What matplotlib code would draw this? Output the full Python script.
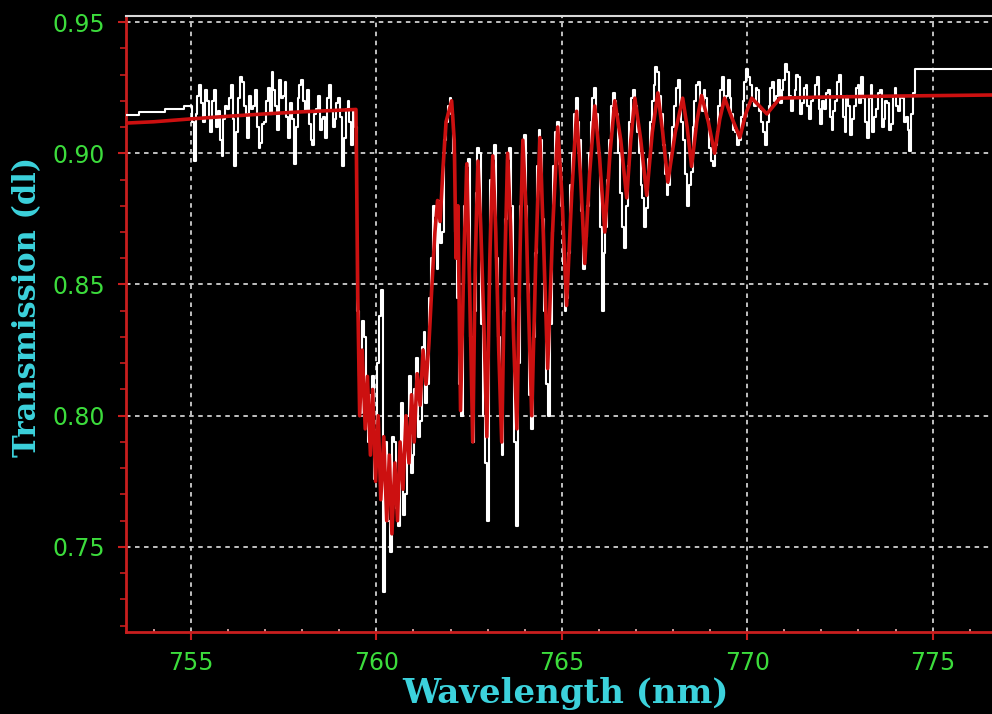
import numpy as np
import matplotlib.pyplot as plt
from matplotlib.ticker import MultipleLocator, FormatStrFormatter

# measured transmission, sparse samples before the band and after it
edge_wl_left = [753.25, 753.95, 754.65]
edge_tr_left = [0.9146, 0.9158, 0.9170]
edge_wl_right = [774.55, 776.6]
edge_tr_right = [0.932, 0.932]

# measured transmission on the 0.05 nm grid, 755.00 - 774.50 nm (one row per half nm)
meas_tr = [
    0.918, 0.912, 0.897, 0.915, 0.922, 0.926, 0.919, 0.912, 0.924, 0.920,
    0.914, 0.908, 0.920, 0.924, 0.910, 0.916, 0.905, 0.899, 0.913, 0.918,
    0.917, 0.921, 0.926, 0.913, 0.895, 0.908, 0.921, 0.929, 0.927, 0.918,
    0.915, 0.906, 0.922, 0.917, 0.918, 0.924, 0.910, 0.902, 0.904, 0.911,
    0.912, 0.920, 0.925, 0.915, 0.931, 0.924, 0.918, 0.909, 0.928, 0.921,
    0.922, 0.927, 0.914, 0.906, 0.919, 0.913, 0.896, 0.910, 0.921, 0.926,
    0.928, 0.920, 0.916, 0.924, 0.911, 0.905, 0.903, 0.915, 0.917, 0.922,
    0.909, 0.913, 0.914, 0.906, 0.921, 0.926, 0.916, 0.910, 0.913, 0.919,
    0.921, 0.914, 0.895, 0.906, 0.917, 0.920, 0.912, 0.903, 0.916, 0.910,
    0.840, 0.815, 0.801, 0.836, 0.830, 0.800, 0.790, 0.808, 0.815, 0.776,
    0.782, 0.820, 0.838, 0.848, 0.733, 0.790, 0.775, 0.760, 0.748, 0.792,
    0.790, 0.765, 0.758, 0.780, 0.805, 0.762, 0.770, 0.800, 0.815, 0.778,
    0.785, 0.810, 0.822, 0.792, 0.798, 0.826, 0.832, 0.805, 0.812, 0.845,
    0.860, 0.880, 0.876, 0.856, 0.882, 0.866, 0.870, 0.905, 0.912, 0.918,
    0.921, 0.915, 0.900, 0.870, 0.845, 0.812, 0.800, 0.850, 0.880, 0.895,
    0.898, 0.830, 0.790, 0.840, 0.885, 0.902, 0.900, 0.835, 0.800, 0.782,
    0.760, 0.850, 0.890, 0.898, 0.903, 0.860, 0.830, 0.800, 0.785, 0.840,
    0.875, 0.898, 0.902, 0.880, 0.845, 0.790, 0.758, 0.820, 0.880, 0.900,
    0.907, 0.880, 0.850, 0.808, 0.795, 0.830, 0.862, 0.895, 0.909, 0.905,
    0.875, 0.840, 0.812, 0.800, 0.835, 0.870, 0.895, 0.908, 0.912, 0.896,
    0.880, 0.858, 0.840, 0.845, 0.862, 0.888, 0.900, 0.915, 0.921, 0.912,
    0.905, 0.878, 0.856, 0.868, 0.880, 0.900, 0.912, 0.921, 0.925, 0.915,
    0.900, 0.872, 0.840, 0.862, 0.872, 0.890, 0.905, 0.918, 0.923, 0.920,
    0.915, 0.900, 0.885, 0.872, 0.864, 0.880, 0.895, 0.912, 0.921, 0.924,
    0.918, 0.908, 0.900, 0.888, 0.883, 0.872, 0.879, 0.898, 0.912, 0.920,
    0.926, 0.933, 0.931, 0.922, 0.915, 0.903, 0.892, 0.884, 0.888, 0.900,
    0.910, 0.918, 0.925, 0.928, 0.918, 0.912, 0.905, 0.892, 0.880, 0.888,
    0.893, 0.910, 0.920, 0.926, 0.927, 0.920, 0.916, 0.924, 0.921, 0.913,
    0.902, 0.897, 0.895, 0.903, 0.908, 0.918, 0.924, 0.929, 0.919, 0.922,
    0.928, 0.921, 0.915, 0.909, 0.908, 0.903, 0.905, 0.914, 0.920, 0.927,
    0.932, 0.929, 0.926, 0.920, 0.918, 0.925, 0.924, 0.916, 0.912, 0.908,
    0.903, 0.912, 0.918, 0.925, 0.927, 0.920, 0.922, 0.928, 0.919, 0.924,
    0.928, 0.934, 0.931, 0.922, 0.916, 0.921, 0.924, 0.930, 0.929, 0.915,
    0.919, 0.925, 0.926, 0.918, 0.913, 0.920, 0.921, 0.926, 0.929, 0.917,
    0.911, 0.920, 0.917, 0.923, 0.924, 0.914, 0.909, 0.916, 0.920, 0.927,
    0.930, 0.922, 0.914, 0.908, 0.922, 0.918, 0.907, 0.913, 0.918, 0.925,
    0.926, 0.919, 0.929, 0.921, 0.912, 0.906, 0.921, 0.926, 0.908, 0.914,
    0.917, 0.923, 0.924, 0.910, 0.913, 0.920, 0.919, 0.909, 0.911, 0.922,
    0.925, 0.918, 0.916, 0.922, 0.921, 0.912, 0.914, 0.909, 0.901, 0.915,
    0.923,
]
meas_wl = np.round(755.0 + 0.05 * np.arange(len(meas_tr)), 2)

# model transmission
model_wl = [
    753.25, 754.00, 755.00, 756.00, 757.00, 758.00, 759.00, 759.45, 759.50, 759.55,
    759.62, 759.70, 759.76, 759.84, 759.90, 759.98, 760.05, 760.12, 760.20, 760.28,
    760.35, 760.42, 760.50, 760.57, 760.64, 760.72, 760.80, 760.88, 760.95, 761.02,
    761.10, 761.18, 761.26, 761.34, 761.42, 761.50, 761.58, 761.65, 761.72, 761.80,
    761.88, 762.03, 762.10, 762.15, 762.20, 762.27, 762.36, 762.44, 762.52, 762.60,
    762.67, 762.74, 762.82, 762.90, 762.98, 763.06, 763.14, 763.22, 763.30, 763.38,
    763.46, 763.54, 763.62, 763.70, 763.79, 763.87, 763.95, 764.03, 764.11, 764.19,
    764.30, 764.41, 764.50, 764.62, 764.75, 764.89, 765.00, 765.13, 765.27, 765.40,
    765.51, 765.62, 765.75, 765.89, 766.02, 766.16, 766.30, 766.43, 766.59, 766.75,
    766.86, 766.97, 767.13, 767.29, 767.44, 767.59, 767.72, 767.86, 768.06, 768.26,
    768.38, 768.50, 768.64, 768.77, 768.95, 769.12, 769.26, 769.39, 769.60, 769.80,
    769.96, 770.12, 770.33, 770.53, 770.88, 772.00, 774.00, 776.60,
]
model_tr = [
    0.9115, 0.9120, 0.9131, 0.9141, 0.9150, 0.9158, 0.9164, 0.9167, 0.845, 0.800,
    0.825, 0.795, 0.815, 0.785, 0.810, 0.775, 0.800, 0.768, 0.792, 0.760,
    0.785, 0.755, 0.782, 0.760, 0.790, 0.772, 0.800, 0.782, 0.808, 0.790,
    0.816, 0.804, 0.825, 0.812, 0.828, 0.850, 0.870, 0.882, 0.874, 0.895,
    0.912, 0.920, 0.905, 0.860, 0.880, 0.802, 0.860, 0.896, 0.845, 0.790,
    0.860, 0.897, 0.870, 0.835, 0.792, 0.860, 0.899, 0.870, 0.825, 0.790,
    0.855, 0.900, 0.872, 0.830, 0.795, 0.860, 0.905, 0.880, 0.838, 0.800,
    0.860, 0.906, 0.870, 0.818, 0.870, 0.910, 0.885, 0.842, 0.885, 0.916,
    0.890, 0.858, 0.892, 0.918, 0.898, 0.870, 0.900, 0.920, 0.905, 0.883,
    0.905, 0.921, 0.905, 0.884, 0.908, 0.923, 0.908, 0.889, 0.908, 0.921,
    0.910, 0.895, 0.912, 0.922, 0.912, 0.900, 0.913, 0.921, 0.913, 0.906,
    0.915, 0.921, 0.918, 0.915, 0.921, 0.9214, 0.9218, 0.9222,
]

wl = np.concatenate([edge_wl_left, meas_wl, edge_wl_right])
tr = np.concatenate([edge_tr_left, meas_tr, edge_tr_right])

fig = plt.figure(figsize=(9.92, 7.14), dpi=100, facecolor='black')
ax = fig.add_axes([126 / 992, 1 - 632 / 714, 1 - 126 / 992, (632 - 16) / 714])
ax.set_facecolor('black')

ax.plot(wl, tr, color='white', lw=1.5, drawstyle='steps-mid', zorder=3)
ax.plot(model_wl, model_tr, color='#cc1010', lw=2.6, zorder=4)

ax.set_xlim(753.25, 776.6)
ax.set_ylim(0.7176, 0.9523)

ax.xaxis.set_major_locator(MultipleLocator(5))
ax.xaxis.set_minor_locator(MultipleLocator(1))
ax.yaxis.set_major_locator(MultipleLocator(0.05))
ax.yaxis.set_minor_locator(MultipleLocator(0.01))
ax.yaxis.set_major_formatter(FormatStrFormatter('%.2f'))

ax.grid(True, which='major', color='#cfcfcf', lw=1.3, linestyle=(0, (2.5, 2.5)), zorder=1)

for side in ['left', 'bottom']:
    ax.spines[side].set_color('#c81e1e')
    ax.spines[side].set_linewidth(2)
ax.spines['top'].set_color('#d8d8d8')
ax.spines['top'].set_linewidth(1.5)
ax.spines['right'].set_visible(False)

ax.tick_params(axis='both', which='major', direction='out', length=6, width=1.5,
               color='#c81e1e', labelcolor='#3cdc3c', labelsize=17)
ax.tick_params(axis='y', which='major', pad=9)
ax.tick_params(axis='x', which='major', pad=8)
ax.tick_params(axis='y', which='minor', direction='out', length=4, width=1.2, color='#c81e1e')
ax.tick_params(axis='x', which='minor', direction='in', length=2, width=1.2, color='#e8b0b0')

fig.text(565 / 992, 1 - 693 / 714, 'Wavelength (nm)', color='#3cd2dc', fontsize=24.5,
         family='DejaVu Serif', fontweight='bold', ha='center', va='center')
fig.text(28 / 992, 1 - 307 / 714, 'Transmission (dl)', color='#3cd2dc', fontsize=22,
         family='DejaVu Serif', fontweight='bold', ha='center', va='center', rotation=90)

fig.savefig('out.png', dpi=100, facecolor='black')
